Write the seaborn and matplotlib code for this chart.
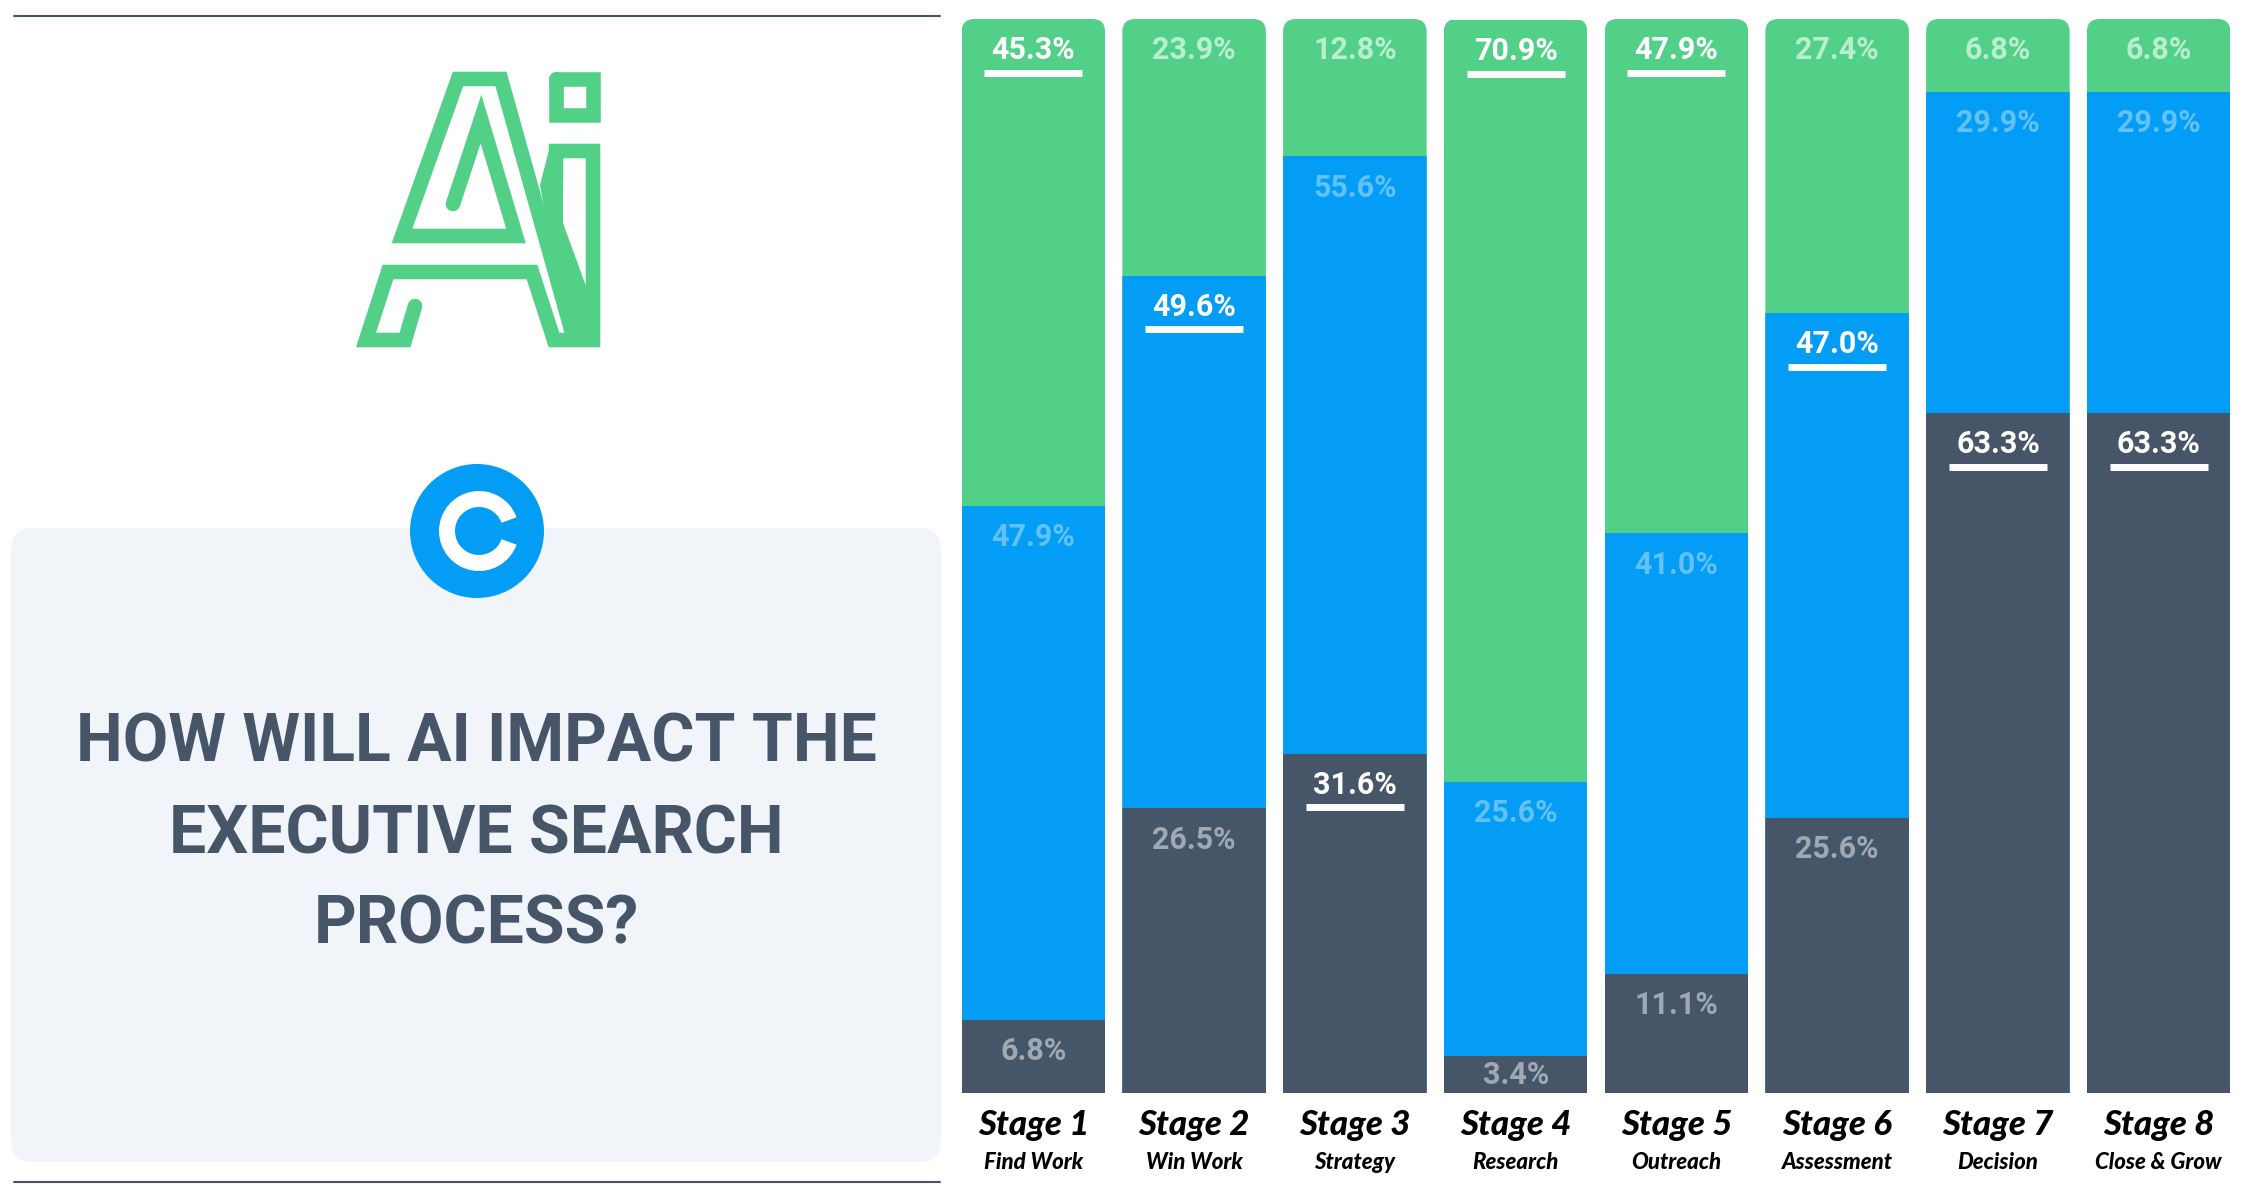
import numpy as np
import pandas as pd
import matplotlib
matplotlib.use("Agg")
import matplotlib.pyplot as plt
import seaborn as sns
from matplotlib.patches import FancyBboxPatch, Circle, Wedge, Polygon

# =========================
# DATA
# =========================
stages = ["Stage 1", "Stage 2", "Stage 3", "Stage 4", "Stage 5", "Stage 6", "Stage 7", "Stage 8"]
steps = ["Find Work", "Win Work", "Strategy", "Research", "Outreach", "Assessment", "Decision", "Close & Grow"]
dark_vals = [6.8, 26.5, 31.6, 3.4, 11.1, 25.6, 63.3, 63.3]
blue_vals = [47.9, 49.6, 55.6, 25.6, 41.0, 47.0, 29.9, 29.9]
green_vals = [45.3, 23.9, 12.8, 70.9, 47.9, 27.4, 6.8, 6.8]
highlight = ["green", "blue", "dark", "green", "green", "blue", "dark", "dark"]
title_lines = ["HOW WILL AI IMPACT THE", "EXECUTIVE SEARCH", "PROCESS?"]

# =========================
# STYLE
# =========================
GREEN = "#52D088"
BLUE = "#039DF5"
DARK = "#475569"
TINTS = {"green": "#B9EECE", "blue": "#62C1F6", "dark": "#9EA8B6"}
BOX_BG = "#F1F5F9"

sns.set_theme(style="white")
plt.rcParams["font.family"] = ["Roboto", "DejaVu Sans"]

df = pd.DataFrame({"stage": stages, "step": steps,
                   "dark": dark_vals, "blue": blue_vals, "green": green_vals})
df["dark_top"] = df["dark"]
df["blue_top"] = df["dark"] + df["blue"]
df["green_top"] = df["dark"] + df["blue"] + df["green"]

W, H = 2250, 1200
fig = plt.figure(figsize=(W / 100, H / 100), dpi=100)

# =========================
# LEFT PANEL (pixel coords)
# =========================
bg = fig.add_axes([0, 0, 1, 1])
bg.set_xlim(0, W)
bg.set_ylim(H, 0)
bg.set_axis_off()

bg.plot([14, 940], [16, 16], color=DARK, lw=1.5)
bg.plot([14, 940], [1182, 1182], color=DARK, lw=1.5)
bg.add_patch(FancyBboxPatch((11, 528), 930, 634, boxstyle="round,pad=0,rounding_size=22",
                            fc=BOX_BG, ec="none"))

# AI logo
logo_lw = 10.5
bg.plot([453, 481, 516, 402, 458, 501, 574], [204, 119, 236, 236, 79, 79, 340],
        color=GREEN, lw=logo_lw, solid_joinstyle="miter", solid_capstyle="round")
bg.plot([415, 405, 366, 388, 532, 554, 593, 593, 556, 556],
        [306, 340, 340, 272, 272, 340, 340, 151, 151, 180],
        color=GREEN, lw=logo_lw, solid_joinstyle="miter", solid_capstyle="round")
bg.plot([556, 593, 593, 556, 556], [79, 79, 115, 115, 79],
        color=GREEN, lw=logo_lw, solid_joinstyle="miter")
bg.add_patch(Polygon([(549, 150), (563, 150), (563, 223), (586, 286), (586, 334), (566, 334), (540, 185)],
                     closed=True, fc=GREEN, ec="none"))

# C icon
bg.add_patch(Circle((477, 531), 67, fc=BLUE, ec="none", zorder=3))
bg.add_patch(Wedge((479, 531), 40, 20, 340, width=16, fc="white", ec="none", zorder=4))

for k, line in enumerate(title_lines):
    bg.text(476, 744 + k * 91, line, ha="center", va="center", fontsize=47.5,
            fontweight="bold", color=DARK)

# =========================
# STACKED BARS
# =========================
ax = fig.add_axes([953 / W, 1 - 1093 / H, 1286 / W, (1093 - 19) / H])
bar_w = 0.893
for col, top in [("green", "green_top"), ("blue", "blue_top"), ("dark", "dark_top")]:
    sns.barplot(data=df, x="stage", y=top, color={"green": GREEN, "blue": BLUE, "dark": DARK}[col],
                saturation=1, width=bar_w, linewidth=0, errorbar=None, ax=ax)
ax.set_xlim(-0.5, 7.5)
ax.set_ylim(0, 100)
ax.set_axis_off()

# rounded top corners
px_x = 1286 / 8.0
px_y = 1074 / 100.0
r_px = 13
r_x = r_px / px_x
aspect = (r_px / px_y) / r_x
for p in ax.patches:
    cx = p.get_x() + p.get_width() / 2
    clip = FancyBboxPatch((cx - bar_w / 2, -30), bar_w, 130,
                          boxstyle=f"round,pad=0,rounding_size={r_x}",
                          mutation_aspect=aspect, transform=ax.transData)
    p.set_clip_path(clip)

for i, row in df.iterrows():
    for key in ["dark", "blue", "green"]:
        top = row[key + "_top"]
        hl = highlight[i] == key
        y_lab = max(top - 2.9, top / 2)
        ax.text(i, y_lab, f"{row[key]:.1f}%", ha="center", va="center",
                fontsize=22, fontweight="bold", color="white" if hl else TINTS[key])
        if hl:
            ax.plot([i - 0.305, i + 0.305], [top - 5.0, top - 5.0], color="white",
                    lw=5, solid_capstyle="butt")
    ax.text(i, -3.0, row["stage"], ha="center", va="center", fontsize=25,
            family=["Lato", "DejaVu Sans"], fontweight="black", style="italic",
            color="black", clip_on=False)
    ax.text(i, -6.5, row["step"], ha="center", va="center", fontsize=16,
            family=["Lato", "DejaVu Sans"], fontweight="black", style="italic",
            color="black", clip_on=False)

fig.savefig("out.png", dpi=100)
